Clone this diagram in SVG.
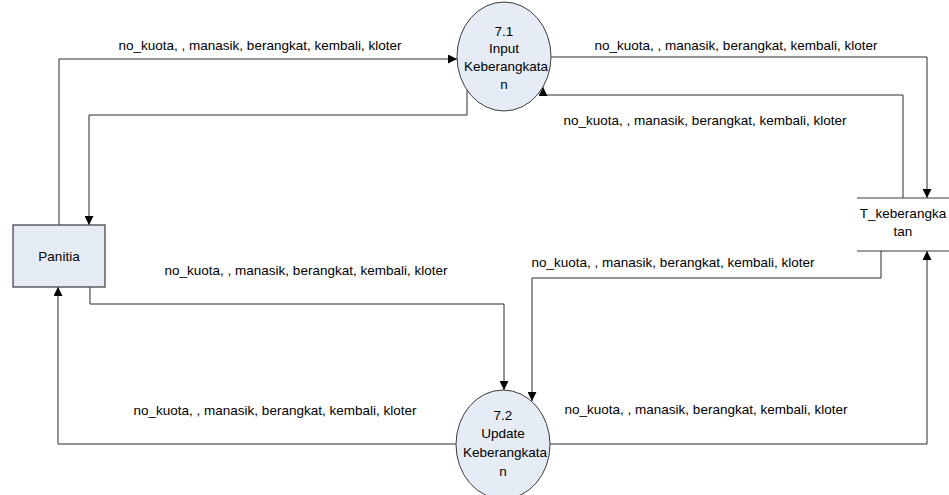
<svg xmlns="http://www.w3.org/2000/svg" width="949" height="495" viewBox="0 0 949 495">
<defs>
<marker id="arr" viewBox="0 0 10 10" refX="10" refY="5" markerWidth="9" markerHeight="9" markerUnits="userSpaceOnUse" orient="auto">
<path d="M0,0 L10,5 L0,10 Z" fill="#000"/>
</marker>
</defs>
<style>
text{font-family:"Liberation Sans",Arial,sans-serif;font-size:13.5px;fill:#000}
.proc{fill:#e6ecf6;stroke:#3a3a3a;stroke-width:1}
.ent{fill:#e6ecf6;stroke:#3a3a3a;stroke-width:1.2}
.st{stroke:#3a3a3a;stroke-width:1;fill:none}
.c{fill:none;stroke:#2a2a2a;stroke-width:1;marker-end:url(#arr)}
.lbl{text-anchor:middle}
</style>
<rect width="949" height="495" fill="#fff"/>
<g id="connectors">
<path class="c" d="M59,225 V59 H457"/>
<path class="c" d="M467,90 V115 H89 V225"/>
<path class="c" d="M551,57 H927 V198"/>
<path class="c" d="M903,198 V95 H543 V87"/>
<path class="c" d="M881,251 V278 H532 V401"/>
<path class="c" d="M90,287 V304 H504 V390"/>
<path class="c" d="M456,444 H58 V287"/>
<path class="c" d="M550,444 H927 V251"/>
<text class="lbl" x="260" y="50">no_kuota, , manasik, berangkat, kembali, kloter</text>
<text class="lbl" x="736" y="50">no_kuota, , manasik, berangkat, kembali, kloter</text>
<text class="lbl" x="705" y="125">no_kuota, , manasik, berangkat, kembali, kloter</text>
<text class="lbl" x="673" y="267">no_kuota, , manasik, berangkat, kembali, kloter</text>
<text class="lbl" x="306" y="275">no_kuota, , manasik, berangkat, kembali, kloter</text>
<text class="lbl" x="275" y="415">no_kuota, , manasik, berangkat, kembali, kloter</text>
<text class="lbl" x="706" y="414">no_kuota, , manasik, berangkat, kembali, kloter</text>
</g>
<g id="p71">
<ellipse class="proc" cx="504" cy="56.5" rx="47" ry="54.5"/>
<text class="lbl" x="504" y="36">7.1</text>
<text class="lbl" x="504" y="53">Input</text>
<text class="lbl" x="506" y="71">Keberangkata</text>
<text class="lbl" x="504" y="89">n</text>
</g>
<g id="p72">
<ellipse class="proc" cx="503" cy="444.5" rx="47" ry="54.5"/>
<text class="lbl" x="503" y="420">7.2</text>
<text class="lbl" x="503" y="438">Update</text>
<text class="lbl" x="505" y="457">Keberangkata</text>
<text class="lbl" x="503" y="476">n</text>
</g>
<g id="panitia">
<rect class="ent" x="13" y="225" width="92" height="62"/>
<text class="lbl" x="59" y="261">Panitia</text>
</g>
<g id="t_keberangkatan">
<path class="st" d="M857,198 H949 M857,251 H949"/>
<text class="lbl" x="903" y="218">T_keberangka</text>
<text class="lbl" x="903" y="236">tan</text>
</g>
</svg>
